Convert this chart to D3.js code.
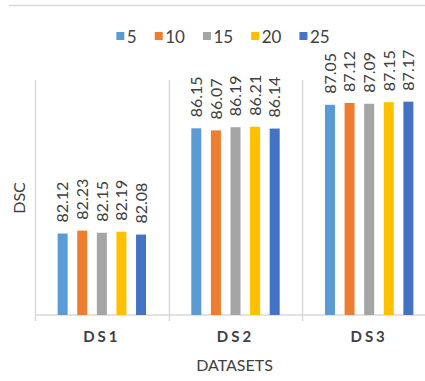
<!DOCTYPE html>
<html>
<head>
<meta charset="utf-8">
<script src="https://cdn.jsdelivr.net/npm/d3@7"></script>
<style>
  html, body { margin: 0; padding: 0; background: #fff; }
  svg { display: block; font-family: Lato, "Open Sans", sans-serif; }
</style>
</head>
<body>
<svg id="chart" width="425" height="381"></svg>
<script>
const categories = ["DS1", "DS2", "DS3"];
const seriesNames = ["5", "10", "15", "20", "25"];
const series5  = [82.12, 86.15, 87.05];
const series10 = [82.23, 86.07, 87.12];
const series15 = [82.15, 86.19, 87.09];
const series20 = [82.19, 86.21, 87.15];
const series25 = [82.08, 86.14, 87.17];
const seriesColors = ["#5B9BD5", "#ED7D31", "#A5A5A5", "#FFC000", "#4472C4"];
const yDomain = [79, 88];
const xTitle = "DATASETS";
const yTitle = "DSC";

const seriesValues = [series5, series10, series15, series20, series25];

const svg = d3.select("#chart");
const plot = { left: 35, right: 436, top: 80, bottom: 315 };

// chart top border line
svg.append("line")
  .attr("x1", 9).attr("x2", 425).attr("y1", 5.5).attr("y2", 5.5)
  .attr("stroke", "#d9d9d9").attr("stroke-width", 1.5);

const x0 = d3.scaleBand().domain(categories).range([plot.left, plot.right]).padding(0);
const x1 = d3.scaleBand().domain(seriesNames).range([0, x0.bandwidth()])
  .paddingInner(0.49).paddingOuter(1.155);
const y = d3.scaleLinear().domain(yDomain).range([plot.bottom, plot.top]);

// category separators (tall tick marks)
const bounds = categories.map(c => x0(c)).concat([plot.right]);
svg.append("g").selectAll("line").data(bounds).join("line")
  .attr("x1", d => Math.round(d) + 0.5).attr("x2", d => Math.round(d) + 0.5)
  .attr("y1", plot.top).attr("y2", plot.bottom + 6)
  .attr("stroke", "#d9d9d9").attr("stroke-width", 1.5);

// baseline
svg.append("line")
  .attr("x1", plot.left).attr("x2", 425)
  .attr("y1", y(yDomain[0])).attr("y2", y(yDomain[0]))
  .attr("stroke", "#d9d9d9").attr("stroke-width", 1.5);

// bars
const flat = [];
categories.forEach((c, ci) => {
  seriesNames.forEach((s, si) => {
    flat.push({ cat: c, ser: s, si: si, value: seriesValues[si][ci] });
  });
});

svg.append("g").selectAll("rect").data(flat).join("rect")
  .attr("x", d => x0(d.cat) + x1(d.ser))
  .attr("width", x1.bandwidth())
  .attr("y", d => y(d.value))
  .attr("height", d => y(yDomain[0]) - y(d.value))
  .attr("fill", d => seriesColors[d.si]);

// data labels
svg.append("g").selectAll("text").data(flat).join("text")
  .attr("transform", d => {
    const cx = x0(d.cat) + x1(d.ser) + x1.bandwidth() / 2;
    const cy = y(d.value) - 11;
    return `translate(${cx},${cy}) rotate(-90)`;
  })
  .attr("dy", "0.36em")
  .attr("text-anchor", "start")
  .attr("font-size", 16)
  .attr("fill", "#404040")
  .text(d => d.value.toFixed(2));

// category labels
svg.append("g").selectAll("text").data(categories).join("text")
  .attr("x", d => x0(d) + x0.bandwidth() / 2)
  .attr("y", 342)
  .attr("text-anchor", "middle")
  .attr("font-size", 15)
  .attr("font-weight", "bold")
  .attr("letter-spacing", "3px")
  .attr("fill", "#404040")
  .text(d => d);

// axis titles
svg.append("text")
  .attr("x", (plot.left + plot.right) / 2 - 1)
  .attr("y", 371)
  .attr("text-anchor", "middle")
  .attr("font-size", 16)
  .attr("fill", "#404040")
  .text(xTitle);

svg.append("text")
  .attr("transform", `translate(19.5,198) rotate(-90)`)
  .attr("dy", "0.36em")
  .attr("text-anchor", "middle")
  .attr("font-size", 16)
  .attr("fill", "#404040")
  .text(yTitle);

// legend
const legend = svg.append("g");
const items = seriesNames.map((s, i) => {
  const g = legend.append("g");
  g.append("rect").attr("width", 8).attr("height", 8).attr("y", -11).attr("fill", seriesColors[i]);
  const t = g.append("text").attr("x", 10.5).attr("font-size", 17).attr("fill", "#404040").text(s);
  return { g, w: 10.5 + t.node().getComputedTextLength() };
});
const gap = 18;
const total = items.reduce((a, it) => a + it.w, 0) + gap * (items.length - 1);
let lx = 223 - total / 2;
items.forEach(it => {
  it.g.attr("transform", `translate(${lx},43)`);
  lx += it.w + gap;
});
</script>
</body>
</html>
